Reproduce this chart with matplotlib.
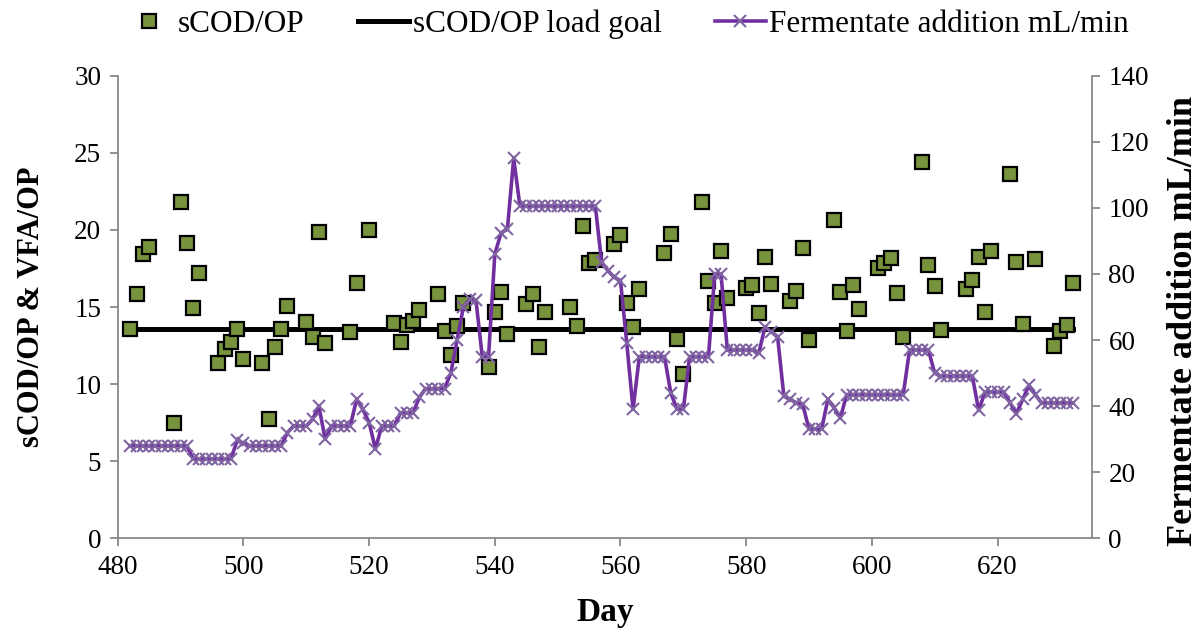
import matplotlib
matplotlib.use("Agg")
import matplotlib.pyplot as plt

plt.rcParams['font.family'] = ['Liberation Serif', 'DejaVu Serif']

# sCOD/OP measurements (left axis)
sc_days = [482, 483, 484, 485, 489, 490, 491, 492, 493, 496, 497, 498, 499, 500,
           503, 504, 505, 506, 507, 510, 511, 512, 513, 517, 518, 520, 524, 525,
           526, 527, 528, 531, 532, 533, 534, 535, 539, 540, 541, 542, 545, 546,
           547, 548, 552, 553, 554, 555, 556, 559, 560, 561, 562, 563, 567, 568,
           569, 570, 573, 574, 575, 576, 577, 580, 581, 582, 583, 584, 587, 588,
           589, 590, 594, 595, 596, 597, 598, 601, 602, 603, 604, 605, 608, 609,
           610, 611, 615, 616, 617, 618, 619, 622, 623, 624, 626, 629, 630, 631, 632]
sc_vals = [13.55, 15.84, 18.43, 18.9, 7.45, 21.82, 19.17, 14.91, 17.22, 11.4, 12.27, 12.74, 13.57, 11.62,
           11.4, 7.71, 12.42, 13.57, 15.06, 14.04, 13.03, 19.88, 12.64, 13.39, 16.57, 19.99, 13.94, 12.74,
           13.83, 14.1, 14.8, 15.82, 13.44, 11.86, 13.78, 15.23, 11.12, 14.65, 15.95, 13.24, 15.19, 15.82,
           12.42, 14.65, 15.01, 13.76, 20.25, 17.83, 18.04, 19.12, 19.66, 15.27, 13.72, 16.14, 18.52, 19.73,
           12.9, 10.65, 21.8, 16.68, 15.23, 18.65, 15.6, 16.25, 16.42, 14.58, 18.22, 16.47, 15.4, 16.05,
           18.8, 12.85, 20.66, 15.99, 13.46, 16.42, 14.86, 17.5, 17.83, 18.19, 15.88, 13.07, 24.42, 17.72,
           16.36, 13.5, 16.2, 16.74, 18.22, 14.69, 18.65, 23.66, 17.93, 13.89, 18.09, 12.46, 13.44, 13.83, 16.53]

# load goal
goal_days = [481, 632]
goal_vals = [13.6, 13.6]

# fermentate addition (right axis), one value per day 482..632
ferm_days = list(range(482, 633))
ferm_vals = [28, 28, 28, 28, 28, 28, 28, 28, 28, 28,          # 482-491
             24, 24, 24, 24, 24, 24, 24,                      # 492-498
             29.6, 28.7, 28, 28, 28, 28, 28, 28,              # 499-506
             32, 34, 34, 34, 36, 40, 30,                      # 507-513
             34, 34, 34, 34, 42, 39, 35, 27,                  # 514-521
             34, 34, 34, 38, 38, 38, 42.7,                    # 522-528
             45.3, 45.3, 45.3, 45.3, 50, 60, 70, 72.3, 72,    # 529-537
             55, 55, 86, 92.5, 93.5, 115,                     # 538-543
             100.5, 100.5, 100.5, 100.5, 100.5, 100.5, 100.5,
             100.5, 100.5, 100.5, 100.5, 100.5, 100.5,        # 544-556
             83.5, 81, 79, 78, 59, 39,                        # 557-562
             55, 55, 55, 55, 55, 44, 39, 39,                  # 563-570
             55, 55, 55, 55, 80, 80,                          # 571-576
             57, 57, 57, 57, 57, 56, 64, 62.5, 61,            # 577-585
             43, 42, 41, 40.5, 33, 33, 33,                    # 586-592
             42, 39.5, 36.5,                                  # 593-595
             43.5, 43.5, 43.5, 43.5, 43.5, 43.5, 43.5, 43.5, 43.5, 43.5,  # 596-605
             57, 57, 57, 57, 50,                              # 606-610
             49, 49, 49, 49, 49, 49, 38.7,                    # 611-617
             44.2, 44.2, 44.2, 44.2, 41, 37.7, 42, 46.3, 43.5,  # 618-626
             41, 41, 41, 41, 41, 41]                          # 627-632

fig = plt.figure(figsize=(12.02, 6.32), dpi=100)
ax1 = fig.add_axes([0.098, 0.1484, 0.8103, 0.7316])
ax2 = ax1.twinx()

grey = '#898989'

l_goal, = ax1.plot(goal_days, goal_vals, color='black', lw=3.6, zorder=2,
                   label='sCOD/OP load goal')
l_sc, = ax1.plot(sc_days, sc_vals, ls='none', marker='s', ms=9.5, mfc='#77933C',
                 mec='black', mew=1.6, zorder=3, label='sCOD/OP')
l_ferm, = ax2.plot(ferm_days, ferm_vals, color='#7030A0', lw=2.6, marker='x', ms=8.5,
                   mec='#8064A2', mew=1.5, label='Fermentate addition mL/min')

ax1.set_xlim(480, 635)
ax1.set_ylim(0, 30)
ax2.set_ylim(0, 140)
ax1.set_xticks(range(480, 621, 20))
ax1.set_yticks(range(0, 31, 5))
ax2.set_yticks(range(0, 141, 20))

for s in ['top', 'right']:
    ax1.spines[s].set_visible(False)
for s in ['top', 'left', 'bottom']:
    ax2.spines[s].set_visible(False)
for s in ['left', 'bottom']:
    ax1.spines[s].set_color(grey)
    ax1.spines[s].set_linewidth(1.3)
ax2.spines['right'].set_color(grey)
ax2.spines['right'].set_linewidth(1.3)

ax1.tick_params(direction='out', length=6, width=1.3, color=grey, labelsize=19.5, pad=6)
ax2.tick_params(direction='out', length=6, width=1.3, color=grey, labelsize=19.5, pad=6)

ax1.set_xlabel('Day', fontsize=24, fontweight='bold', labelpad=12)
ax1.set_ylabel('sCOD/OP & VFA/OP', fontsize=22, fontweight='bold', labelpad=20)
ax2.set_ylabel('Fermentate addition mL/min', fontsize=26, fontweight='bold')
ax2.yaxis.set_label_coords(1.077, 0.47)

fig.legend([l_sc, l_goal, l_ferm],
           ['sCOD/OP', 'sCOD/OP load goal', 'Fermentate addition mL/min'],
           loc='upper center', bbox_to_anchor=(0.521, 1.03), ncol=3, frameon=False,
           fontsize=22.5, handlelength=1.65, handletextpad=0.1, columnspacing=1.7)

fig.savefig('out.png', dpi=100)
